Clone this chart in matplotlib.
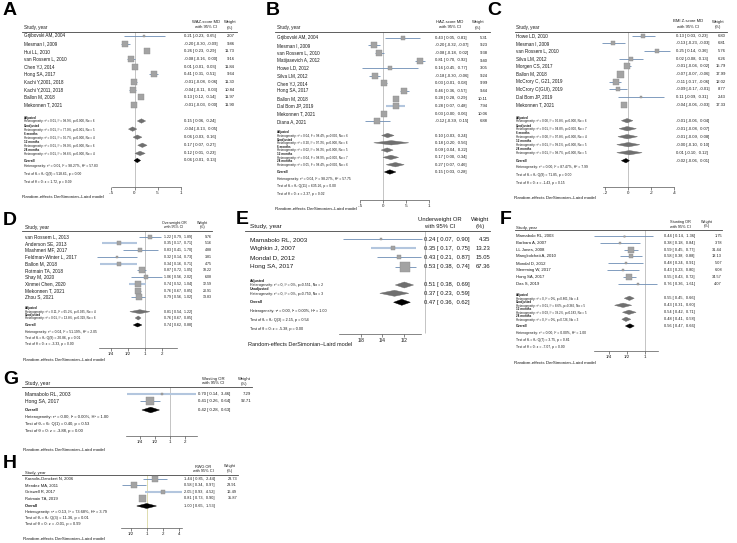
import numpy as np
import matplotlib.pyplot as plt
from matplotlib import transforms, ticker
from matplotlib.patches import Polygon

plt.rcParams['font.family'] = ['Liberation Sans', 'DejaVu Sans']

# ---------------- data ----------------
# A  WAZ-score
a_names = ["Grjibovski AM, 2004", "Mesman I, 2009", "Hui LL, 2010", "van Rossem L, 2010", "Chen YJ, 2014",
           "Hong SA, 2017", "Kachi Y,2001, 2018", "Kachi Y,2011, 2018", "Ballon M, 2018", "Mekonnen T, 2021"]
a_est = [0.21, -0.20, 0.26, -0.08, 0.01, 0.41, -0.01, -0.04, 0.13, -0.01]
a_lo = [-0.23, -0.30, 0.23, -0.16, -0.01, 0.31, -0.08, -0.11, 0.12, -0.03]
a_hi = [0.65, -0.09, 0.29, 0.00, 0.03, 0.51, 0.06, 0.03, 0.14, 0.00]
a_wt = [2.07, 9.86, 11.73, 9.16, 11.84, 9.64, 11.30, 10.84, 11.97, 11.90]
a_sub = ["Adjusted", "Unadjusted", "6 months", "12 months", "24 months"]
a_sub_het = ["τ² = 0.01, I² = 98.9%, p=0.000, No = 6", "τ² = 0.01, I² = 77.0%, p=0.001, No = 5",
             "τ² = 0.01, I² = 96.7%, p=0.000, No = 4", "τ² = 0.01, I² = 99.0%, p=0.000, No = 6",
             "τ² = 0.01, I² = 98.6%, p=0.000, No = 4"]
a_sub_est = [0.15, -0.04, 0.06, 0.17, 0.12]
a_sub_lo = [0.06, -0.13, -0.03, 0.07, 0.01]
a_sub_hi = [0.24, 0.05, 0.16, 0.27, 0.23]
a_overall = [0.06, -0.01, 0.13]
a_stats = ["Heterogeneity: τ² = 0.01, I² = 98.27%, H² = 57.83", "Test of θᵢ = θⱼ: Q(9) = 518.61, p = 0.00",
           "Test of θ = 0: z = 1.72, p = 0.09"]

# B  HAZ-score
b_names = ["Grjibovski AM, 2004", "Mesman I, 2009", "van Rossem L, 2010", "Matijasevich A, 2012", "Howe LD, 2012",
           "Silva LM, 2012", "Chen YJ, 2014", "Hong SA, 2017", "Ballon M, 2018", "Dal Bom JP, 2019",
           "Mekonnen T, 2021", "Diana A, 2021"]
b_est = [0.43, -0.20, -0.08, 0.81, 0.16, -0.18, 0.03, 0.46, 0.28, 0.28, 0.03, -0.12]
b_lo = [0.05, -0.32, -0.18, 0.70, -0.45, -0.30, -0.01, 0.36, 0.28, 0.07, -0.00, -0.39]
b_hi = [0.81, -0.07, 0.02, 0.92, 0.77, -0.06, 0.08, 0.57, 0.29, 0.48, 0.06, 0.15]
b_wt = [5.31, 9.23, 9.38, 9.40, 3.05, 9.24, 9.99, 9.44, 10.11, 7.94, 10.06, 6.88]
b_sub = ["Adjusted", "Unadjusted", "6 months", "12 months", "24 months"]
b_sub_het = ["τ² = 0.04, I² = 98.4%, p=0.000, No = 6", "τ² = 0.20, I² = 97.3%, p=0.000, No = 6",
             "τ² = 0.02, I² = 98.3%, p=0.000, No = 5", "τ² = 0.04, I² = 98.9%, p=0.000, No = 7",
             "τ² = 0.05, I² = 98.4%, p=0.000, No = 6"]
b_sub_est = [0.10, 0.18, 0.09, 0.17, 0.27]
b_sub_lo = [-0.03, -0.20, -0.04, 0.00, 0.07]
b_sub_hi = [0.24, 0.56, 0.22, 0.34, 0.46]
b_overall = [0.15, 0.03, 0.28]
b_stats = ["Heterogeneity: τ² = 0.04, I² = 98.27%, H² = 57.75", "Test of θᵢ = θⱼ: Q(11) = 635.26, p = 0.00",
           "Test of θ = 0: z = 2.37, p = 0.02"]

# C  BMI Z-score
c_names = ["Howe LD, 2010", "Mesman I, 2009", "van Rossem L, 2010", "Silva LM, 2012", "Morgen CS, 2017",
           "Ballon M, 2018", "McCrory C, G21, 2019", "McCrory C(GUI), 2019", "Dal Bom JP, 2019", "Mekonnen T, 2021"]
c_est = [0.13, -0.13, 0.25, 0.02, -0.01, -0.07, -0.11, -0.09, 0.11, -0.04]
c_lo = [0.03, -0.23, 0.14, -0.08, -0.04, -0.07, -0.17, -0.17, -0.09, -0.06]
c_hi = [0.23, -0.03, 0.36, 0.13, 0.02, -0.06, -0.06, -0.01, 0.31, -0.03]
c_wt = [6.80, 6.81, 5.76, 6.26, 15.79, 17.99, 12.02, 8.77, 2.43, 17.33]
c_sub = ["Adjusted", "Unadjusted", "6 months", "12 months", "24 months"]
c_sub_het = ["τ² = 0.00, I² = 90.8%, p=0.000, No = 6", "τ² = 0.01, I² = 94.8%, p=0.000, No = 7",
             "τ² = 0.00, I² = 97.8%, p=0.000, No = 4", "τ² = 0.01, I² = 99.1%, p=0.000, No = 5",
             "τ² = 0.01, I² = 98.7%, p=0.000, No = 5"]
c_sub_est = [-0.01, -0.01, -0.01, -0.00, 0.01]
c_sub_lo = [-0.06, -0.08, -0.09, -0.10, -0.10]
c_sub_hi = [0.04, 0.07, 0.08, 0.10, 0.12]
c_overall = [-0.02, -0.06, 0.01]
c_stats = ["Heterogeneity: τ² = 0.00, I² = 87.47%, H² = 7.99", "Test of θᵢ = θⱼ: Q(9) = 71.85, p = 0.00",
           "Test of θ = 0: z = -1.43, p = 0.15"]

# D  Overweight OR
d_names = ["van Rossem L, 2013", "Anderson SE, 2013", "Mashmeri MF, 2017", "Feldman-Winter L, 2017",
           "Ballon M, 2018", "Rotmain TA, 2018", "Shay M, 2020", "Xinmei Chen, 2020", "Mekonnen T, 2021",
           "Zhou S, 2021"]
d_est = [1.22, 0.35, 0.83, 0.32, 0.34, 0.87, 1.06, 0.74, 0.76, 0.79]
d_lo = [0.79, 0.17, 0.41, 0.14, 0.16, 0.72, 0.56, 0.52, 0.67, 0.56]
d_hi = [1.89, 0.71, 1.70, 0.73, 0.71, 1.05, 2.02, 1.04, 0.85, 1.02]
d_wt = [9.76, 5.16, 4.88, 3.81, 4.75, 18.22, 6.08, 12.59, 20.91, 13.83]
d_sub = ["Adjusted", "Unadjusted"]
d_sub_het = ["τ² = 0.11, I² = 65.2%, p=0.035, No = 4", "τ² = 0.01, I² = 13.8%, p=0.319, No = 6"]
d_sub_est = [0.81, 0.76]
d_sub_lo = [0.54, 0.67]
d_sub_hi = [1.22, 0.85]
d_overall = [0.74, 0.62, 0.88]
d_stats = ["Heterogeneity: τ² = 0.04, I² = 51.19%, H² = 2.05", "Test of θᵢ = θⱼ: Q(9) = 20.86, p = 0.01",
           "Test of θ = 0: z = -3.33, p = 0.00"]

# E  Underweight OR
e_names = ["Mamabolo RL, 2003", "Wighkin J, 2007", "Mondal D, 2012", "Hong SA, 2017"]
e_est = [0.24, 0.35, 0.43, 0.53]
e_lo = [0.07, 0.17, 0.21, 0.38]
e_hi = [0.90, 0.75, 0.87, 0.74]
e_wt = [4.35, 13.23, 15.05, 67.36]
e_sub = ["Adjusted", "Unadjusted"]
e_sub_het = ["τ² = 0, I² = 0%, p=0.551, No = 2", "τ² = 0, I² = 0%, p=0.750, No = 3"]
e_sub_est = [0.51, 0.37]
e_sub_lo = [0.38, 0.23]
e_sub_hi = [0.69, 0.59]
e_overall = [0.47, 0.36, 0.62]
e_stats = ["Heterogeneity: τ² = 0.00, I² = 0.00%, H² = 1.00", "Test of θᵢ = θⱼ: Q(3) = 2.15, p = 0.54",
           "Test of θ = 0: z = -5.38, p = 0.00"]

# F  Stunting OR
f_names = ["Mamabolo RL, 2003", "Barbara A, 2007", "LL Jones, 2008", "Mangkolchati A, 2010", "Mondal D, 2012",
           "Slemming W, 2017", "Hong SA, 2017", "Das S, 2019"]
f_est = [0.44, 0.38, 0.59, 0.58, 0.48, 0.43, 0.55, 0.76]
f_lo = [0.14, 0.18, 0.45, 0.38, 0.24, 0.23, 0.43, 0.36]
f_hi = [1.36, 0.84, 0.77, 0.88, 0.91, 0.80, 0.72, 1.61]
f_wt = [1.75, 3.78, 31.44, 13.13, 5.07, 6.08, 34.57, 4.07]
f_sub = ["Adjusted", "Unadjusted", "12 months", "24 months"]
f_sub_het = ["τ² = 0, I² = 0%, p=0.801, No = 4", "τ² = 0.01, I² = 8.6%, p=0.365, No = 5",
             "τ² = 0.03, I² = 38.2%, p=0.183, No = 5", "τ² = 0, I² = 0%, p=0.726, No = 3"]
f_sub_est = [0.55, 0.43, 0.54, 0.48]
f_sub_lo = [0.45, 0.31, 0.42, 0.41]
f_sub_hi = [0.66, 0.60, 0.71, 0.58]
f_overall = [0.56, 0.47, 0.66]
f_stats = ["Heterogeneity: τ² = 0.00, I² = 0.00%, H² = 1.00", "Test of θᵢ = θⱼ: Q(7) = 3.75, p = 0.81",
           "Test of θ = 0: z = -7.07, p = 0.00"]

# G  Wasting OR
g_names = ["Mamabolo RL, 2003", "Hong SA, 2017"]
g_est = [0.70, 0.41]
g_lo = [0.14, 0.26]
g_hi = [3.46, 0.64]
g_wt = [7.29, 92.71]
g_overall = [0.42, 0.28, 0.63]
g_stats = ["Heterogeneity: τ² = 0.00, I² = 0.00%, H² = 1.00", "Test of θᵢ = θⱼ: Q(1) = 0.40, p = 0.53",
           "Test of θ = 0: z = -3.88, p = 0.00"]

# H  RWG OR
h_names = ["Karaolis-Danckert N, 2006", "Mendez MA, 2011", "Griswell R, 2017", "Rotmain TA, 2019"]
h_est = [1.44, 0.58, 2.05, 0.81]
h_lo = [0.85, 0.34, 0.93, 0.73]
h_hi = [2.44, 0.97, 4.52, 0.90]
h_wt = [23.73, 23.91, 16.49, 35.87]
h_overall = [1.00, 0.65, 1.53]
h_stats = ["Heterogeneity: τ² = 0.13, I² = 73.68%, H² = 3.79", "Test of θᵢ = θⱼ: Q(3) = 11.36, p = 0.01",
           "Test of θ = 0: z = -0.01, p = 0.99"]

lin_ticks = [-0.5, 0, 0.5, 1]
lin_labels = ["-.5", "0", ".5", "1"]
c_ticks = [-0.2, 0, 0.2, 0.4]
c_labels = ["-.2", "0", ".2", ".4"]

W, H = 737, 543
fig = plt.figure(figsize=(W / 100, H / 100), dpi=100)

CI = '#6d8db4'
CI_LIGHT = '#b3c6de'
TXT = '#1a1a1a'


def fmt(e, l, h):
    return f"{e:.2f} [{l:5.2f}, {h:5.2f}]"


def forest(letter, head, names, est, lo, hi, wt, sub, sub_het, sub_est, sub_lo, sub_hi,
           overall, stats, ticks, ticklabels, L):
    log = L['log']
    z, ppu = L['zero'], L['ppu']

    def val(px):
        v = (px - z) / ppu
        return 2 ** v if log else v

    x0, x1 = L['xspan']
    top, bot = L['top'], L['axis']
    ax = fig.add_axes([x0 / W, 1 - bot / H, (x1 - x0) / W, (bot - top) / H])
    if log:
        ax.set_xscale('log', base=2)
    ax.set_xlim(val(x0), val(x1))
    ax.set_ylim(bot, top)
    ax.patch.set_alpha(0)
    for s in ['top', 'left', 'right']:
        ax.spines[s].set_visible(False)
    ax.spines['bottom'].set_bounds(val(L['axspan'][0]), val(L['axspan'][1]))
    ax.spines['bottom'].set_linewidth(0.5)
    ax.spines['bottom'].set_color('#555555')
    ax.set_yticks([])
    ax.set_xticks(ticks)
    ax.set_xticklabels(ticklabels)
    ax.xaxis.set_minor_locator(ticker.NullLocator())
    ax.tick_params(axis='x', length=2, width=0.5, labelsize=L['ft'], pad=1.2, colors='#555555',
                   labelcolor=TXT)
    tr = transforms.blended_transform_factory(fig.transFigure, ax.transData)

    fig.text(L['lab'][0] / W, 1 - L['lab'][1] / H, letter, fontsize=L.get('fl', 14),
             fontweight='bold', va='top', ha='left')

    # header
    ax.text(L['sx'] / W, L['hy'], "Study, year", transform=tr, fontsize=L['fn'], va='center', color=TXT)
    ex_c, wt_c, y1, y2 = L['ch']
    ax.text(ex_c / W, y1, head, transform=tr, fontsize=L['fe'], ha='center', va='center', color=TXT)
    ax.text(ex_c / W, y2, "with 95% CI", transform=tr, fontsize=L['fe'], ha='center', va='center', color=TXT)
    ax.text(wt_c / W, y1, "Weight", transform=tr, fontsize=L['fe'], ha='center', va='center', color=TXT)
    ax.text(wt_c / W, y2, "(%)", transform=tr, fontsize=L['fe'], ha='center', va='center', color=TXT)
    ux0, ux1, uy = L['ul']
    ax.plot([ux0 / W, ux1 / W], [uy, uy], transform=tr, color='#444444', lw=0.6, clip_on=False)

    ref = 1 if log else 0
    ax.vlines(ref, uy, bot, color=L.get('refc', '#c4c4c4'), lw=0.7, zorder=1)

    ex, wx = L['ex'] / W, L['wx'] / W
    wmax = max(wt)
    for i in range(len(names)):
        y = L['r0'] + i * L['dr']
        light = i in L.get('light', [])
        ax.hlines(y, lo[i], hi[i], color=CI_LIGHT if light else CI, lw=1.5 if light else 0.6, zorder=2)
        ax.plot(est[i], y, marker='s', ms=L['box'] * 0.72 * np.sqrt(wt[i] / wmax),
                mfc='#a3a3a3', mec='#8c8c8c', mew=0.3, zorder=3)
        ax.text(L['sx'] / W, y, names[i], transform=tr, fontsize=L['fn'], va='center', color=TXT)
        ax.text(ex, y, fmt(est[i], lo[i], hi[i]), transform=tr, fontsize=L['fe'], va='center', color=TXT)
        ax.text(wx, y, f"{wt[i]:.2f}", transform=tr, fontsize=L['fe'], va='center', ha='right', color=TXT)

    dh = L['dh']

    def diamond(e, l, h, y, col):
        ax.add_patch(Polygon([(l, y), (e, y - dh), (h, y), (e, y + dh)], closed=True,
                             facecolor=col, edgecolor=col, lw=0.3, zorder=3))
        ax.text(ex, y, fmt(e, l, h), transform=tr, fontsize=L['fe'], va='center', color=TXT)

    for j in range(len(sub)):
        y = L['s0'] + j * L['ds']
        diamond(sub_est[j], sub_lo[j], sub_hi[j], y, '#6f6f6f')
        ax.text(L['sx'] / W, y - L['soff'], sub[j], transform=tr, fontsize=L['fh'],
                fontweight='bold', va='center', color=TXT)
        ax.text(L['sx'] / W, y + 0.4, "Heterogeneity: " + sub_het[j], transform=tr,
                fontsize=L['fh'], va='center', color=TXT)

    yo = L['ov']
    diamond(overall[0], overall[1], overall[2], yo, '#000000')
    ax.text(L['sx'] / W, yo, "Overall", transform=tr, fontsize=L['fs'], fontweight='bold',
            va='center', color=TXT)
    for k, s in enumerate(stats):
        ax.text(L['sx'] / W, L['t0'] + k * L['dt'], s, transform=tr, fontsize=L['fs'],
                va='center', color=TXT)
    ax.text((L['sx'] - 2) / W, L['re'], "Random-effects DerSimonian–Laird model", transform=tr,
            fontsize=L['fr'], va='center', color=TXT)
    return ax


base = dict(fn=3.3, fe=3.0, fh=2.2, fs=2.4, ft=3.2, fr=3.2, box=6.5, dh=2.2, soff=3.2)

LA = dict(base, log=False, zero=134.5, ppu=46.5, xspan=(22, 237), top=0, axis=187, axspan=(111.5, 181),
          lab=(3, 2), sx=24, hy=28, ch=(206, 230, 22, 27.5), ul=(22, 237, 32), ex=184, wx=235,
          r0=36, dr=7.66, s0=121, ds=8.1, ov=160.5, t0=166.5, dt=7.8, re=197)
LB = dict(base, log=False, zero=383, ppu=46, xspan=(274, 490), top=0, axis=200, axspan=(360, 429),
          lab=(266, 2), sx=277, hy=28, ch=(450, 478, 22, 27.5), ul=(275, 490, 32), ex=435, wx=488,
          r0=37.7, dr=7.6, s0=135.5, ds=7.3, ov=172, t0=179, dt=7.3, re=209.5, light=[9])
LC = dict(base, log=False, zero=628.3, ppu=115, xspan=(513, 737), top=0, axis=187, axspan=(603, 674),
          lab=(487, 2), sx=516, hy=28, ch=(688, 718, 21.5, 27), ul=(515, 727, 32), ex=676, wx=726,
          r0=35.7, dr=7.66, s0=120.7, ds=8, ov=160.7, t0=167, dt=8, re=198, box=7)
LD = dict(base, log=True, zero=145, ppu=17, xspan=(20, 215), top=205, axis=348, axspan=(99, 177),
          lab=(3, 212), sx=25, hy=228, ch=(174, 203, 223, 227.5), ul=(22, 212, 231), ex=164, wx=212,
          r0=236.7, dr=6.73, s0=311.7, ds=6.3, ov=325, t0=331.7, dt=6.4, re=360, dh=2,
          fn=3.4, fe=2.6, light=[1, 4, 7])
LE = dict(base, log=True, zero=425, ppu=21.3, xspan=(245, 492), top=205, axis=333.5, axspan=(339, 421),
          lab=(236, 211), sx=250, hy=227, ch=(440, 480, 220, 227), ul=(245, 490, 231.5), ex=424.5, wx=490,
          r0=239.3, dr=9.1, s0=285, ds=8.3, soff=3.8, ov=302.3, t0=311, dt=9, re=344.5,
          fn=4.6, fe=4.2, fh=2.5, fs=2.7, ft=3.6, fr=4.0, box=9.5, dh=3, light=[1])
LF = dict(base, log=True, zero=645, ppu=18, xspan=(512, 737), top=205, axis=351, axspan=(594, 658),
          lab=(500, 211), sx=516, hy=228, ch=(680, 707, 222, 226.5), ul=(515, 722, 230), ex=664.5, wx=722,
          r0=236, dr=6.8, s0=298.3, ds=7, ov=326, t0=333.3, dt=6.7, re=363, fn=3.1, fe=2.8)
LG = dict(base, log=True, zero=169.5, ppu=15, xspan=(20, 252), top=368, axis=436, axspan=(126, 197),
          lab=(3, 371), sx=25, hy=384, ch=(213, 244, 379, 383.5), ul=(22, 252, 387), ex=198, wx=251,
          r0=393.7, dr=7.3, s0=0, ds=0, ov=410, t0=417, dt=7, re=450,
          fn=3.6, fe=3.1, fs=3.0, ft=3.2, box=7.5, dh=2.8, light=[0])
LH = dict(base, log=True, zero=146.7, ppu=16, xspan=(20, 240), top=452, axis=528, axspan=(121, 182),
          lab=(3, 455), sx=25, hy=473, ch=(203, 230, 466.5, 471), ul=(22, 238, 475), ex=184, wx=237,
          r0=479, dr=6.4, s0=0, ds=0, ov=506, t0=512, dt=6.1, re=539,
          fn=3.0, fe=2.8, fs=2.8, box=7, dh=2.5, light=[2], refc='#dedcae')

forest("A", "WAZ-score MD", a_names, a_est, a_lo, a_hi, a_wt, a_sub, a_sub_het, a_sub_est, a_sub_lo,
       a_sub_hi, a_overall, a_stats, lin_ticks, lin_labels, LA)
forest("B", "HAZ-score MD", b_names, b_est, b_lo, b_hi, b_wt, b_sub, b_sub_het, b_sub_est, b_sub_lo,
       b_sub_hi, b_overall, b_stats, lin_ticks, lin_labels, LB)
forest("C", "BMI Z-score MD", c_names, c_est, c_lo, c_hi, c_wt, c_sub, c_sub_het, c_sub_est, c_sub_lo,
       c_sub_hi, c_overall, c_stats, c_ticks, c_labels, LC)
forest("D", "Overweight OR", d_names, d_est, d_lo, d_hi, d_wt, d_sub, d_sub_het, d_sub_est, d_sub_lo,
       d_sub_hi, d_overall, d_stats, [0.25, 0.5, 1, 2], ["1/4", "1/2", "1", "2"], LD)
forest("E", "Underweight OR", e_names, e_est, e_lo, e_hi, e_wt, e_sub, e_sub_het, e_sub_est, e_sub_lo,
       e_sub_hi, e_overall, e_stats, [0.125, 0.25, 0.5], ["1/8", "1/4", "1/2"], LE)
forest("F", "Stunting OR", f_names, f_est, f_lo, f_hi, f_wt, f_sub, f_sub_het, f_sub_est, f_sub_lo,
       f_sub_hi, f_overall, f_stats, [0.25, 0.5, 1], ["1/4", "1/2", "1"], LF)
forest("G", "Wasting OR", g_names, g_est, g_lo, g_hi, g_wt, [], [], [], [], [],
       g_overall, g_stats, [0.25, 0.5, 1, 2], ["1/4", "1/2", "1", "2"], LG)
forest("H", "RWG OR", h_names, h_est, h_lo, h_hi, h_wt, [], [], [], [], [],
       h_overall, h_stats, [0.5, 1, 2, 4], ["1/2", "1", "2", "4"], LH)

fig.savefig("out.png", dpi=100, facecolor='white')
